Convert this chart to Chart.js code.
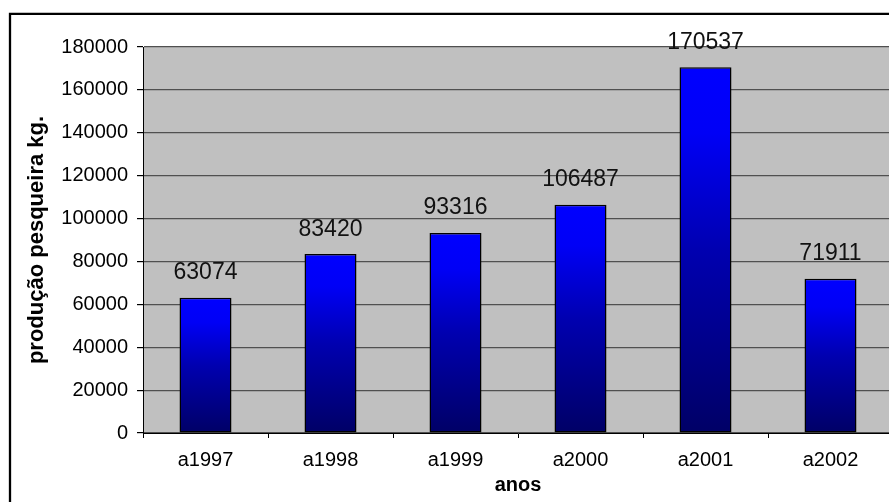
<!DOCTYPE html>
<html>
<head>
<meta charset="utf-8">
<script src="https://cdn.jsdelivr.net/npm/chart.js@4"></script>
<style>
  html, body { margin: 0; padding: 0; background: #fff; overflow: hidden; }
  #wrap { width: 889px; height: 502px; overflow: hidden; }
  canvas { display: block; }
</style>
</head>
<body>
<div id="wrap"><canvas id="c" width="900" height="502"></canvas></div>
<script>
// Produção pesqueira anual (kg)
const categories = ['a1997', 'a1998', 'a1999', 'a2000', 'a2001', 'a2002'];
const producao = [63074, 83420, 93316, 106487, 170537, 71911];
const yTicks = [0, 20000, 40000, 60000, 80000, 100000, 120000, 140000, 160000, 180000];

const FONT = "'Liberation Sans', Arial, sans-serif";

// white page with a black frame line along the top and left edges
const framePlugin = {
  id: 'frame',
  beforeDraw(chart) {
    const { ctx, chartArea } = chart;
    ctx.save();
    ctx.fillStyle = '#ffffff';
    ctx.fillRect(0, 0, chart.width, chart.height);
    ctx.strokeStyle = '#000000';
    ctx.lineWidth = 2.3;
    ctx.beginPath();
    ctx.moveTo(10, chart.height + 5);
    ctx.lineTo(10, 13.8);
    ctx.lineTo(chart.width + 5, 13.8);
    ctx.stroke();
    // grey plot background
    ctx.fillStyle = '#c0c0c0';
    ctx.fillRect(chartArea.left, chartArea.top, chartArea.right - chartArea.left, chartArea.bottom - chartArea.top);
    ctx.restore();
  }
};

// value written above each bar
const valueLabels = {
  id: 'valueLabels',
  afterDatasetsDraw(chart) {
    const { ctx } = chart;
    const meta = chart.getDatasetMeta(0);
    ctx.save();
    ctx.font = '23px ' + FONT;
    ctx.fillStyle = '#111111';
    ctx.textAlign = 'center';
    ctx.textBaseline = 'alphabetic';
    meta.data.forEach((bar, i) => {
      ctx.fillText(String(producao[i]), bar.x, bar.y - 18.5);
    });
    ctx.restore();
  }
};

function barGradient(context) {
  const chart = context.chart;
  const { chartArea, scales } = chart;
  if (!chartArea || !scales.y) return '#0000ff';
  const top = scales.y.getPixelForValue(context.raw);
  const bottom = scales.y.getPixelForValue(0);
  if (!isFinite(top) || !isFinite(bottom) || top === bottom) return '#0000ff';
  const g = chart.ctx.createLinearGradient(0, top, 0, bottom);
  g.addColorStop(0, '#0000ff');
  g.addColorStop(0.18, '#0000f6');
  g.addColorStop(0.5, '#0000b0');
  g.addColorStop(1, '#000066');
  return g;
}

new Chart(document.getElementById('c'), {
  type: 'bar',
  data: {
    labels: categories,
    datasets: [{
      data: producao,
      backgroundColor: barGradient,
      borderColor: '#000000',
      borderWidth: 1.5,
      borderSkipped: false,
      barPercentage: 0.416,
      categoryPercentage: 1
    }]
  },
  options: {
    responsive: false,
    animation: false,
    events: [],
    layout: { padding: { top: 47, right: 7, left: 0, bottom: 0 } },
    plugins: {
      legend: { display: false },
      tooltip: { enabled: false },
      title: { display: false }
    },
    scales: {
      x: {
        offset: true,
        grid: {
          offset: true,
          drawOnChartArea: false,
          drawTicks: true,
          tickLength: 5,
          tickColor: '#000000',
          tickWidth: 1
        },
        border: { display: true, color: '#000000', width: 1 },
        ticks: {
          color: '#000000',
          font: { family: FONT, size: 20 },
          padding: 10,
          maxRotation: 0,
          autoSkip: false
        },
        title: {
          display: true,
          text: 'anos',
          color: '#000000',
          font: { family: FONT, size: 20, weight: 'bold' },
          padding: { top: 0, bottom: 5 }
        },
        afterFit(scale) { scale.height = 69; }
      },
      y: {
        min: 0,
        max: 180000,
        afterBuildTicks(scale) { scale.ticks = yTicks.map(v => ({ value: v })); },
        grid: {
          color: '#505050',
          lineWidth: 1.2,
          drawTicks: true,
          tickLength: 6,
          tickColor: '#000000'
        },
        border: { display: true, color: '#000000', width: 1 },
        ticks: {
          color: '#000000',
          font: { family: FONT, size: 20 },
          padding: 9,
          callback: (v) => String(v)
        },
        title: {
          display: true,
          text: 'produção pesqueira kg.',
          color: '#000000',
          font: { family: FONT, size: 22, weight: 'bold' },
          padding: { top: 24, bottom: 0 }
        },
        afterFit(scale) { scale.width = 143; }
      }
    }
  },
  plugins: [framePlugin, valueLabels]
});
</script>
</body>
</html>
